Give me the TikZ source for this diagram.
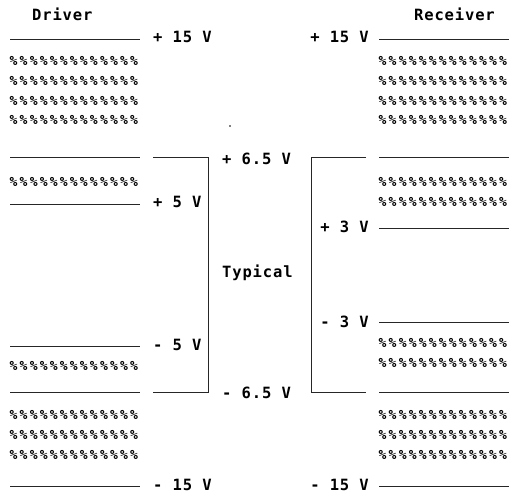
\documentclass[tikz,border=0pt]{standalone}
\usepackage{fontspec}
\newfontfamily\lblfont[LetterSpace=5.5]{DejaVu Sans Mono Bold}
\newfontfamily\hatchfont[LetterSpace=17]{DejaVu Sans Mono Bold}
\newcommand\hrowtext{\%\%\%\%\%\%\%\%\%\%\%\%\%}
\tikzset{
  lbl/.style={font=\lblfont\fontsize{15.5}{18}\selectfont, inner sep=0pt, anchor=base west},
  lble/.style={lbl, anchor=base east},
  hatchrow/.style={font=\hatchfont\fontsize{13}{14}\selectfont, inner sep=0pt, anchor=base west},
  rule/.style={line width=0.8pt, black!85}
}
\begin{document}
\begin{tikzpicture}[x=1pt,y=-1pt]
\useasboundingbox (0,0) rectangle (510,500);
% titles
\node[lbl] (drv) at (32,20.7) {Driver};
\node[lble] (rcv) at (495,20.7) {Receiver};
% left labels
\node[lbl] (lp15) at (153,42.7) {+ 15 V};
\node[lbl] (lp5) at (153,207.7) {+ 5 V};
\node[lbl] (lm5) at (153,350.7) {- 5 V};
\node[lbl] (lm15) at (153,490.7) {- 15 V};
% right labels
\node[lble] (rp15) at (369,42.7) {+ 15 V};
\node[lble] (rp3) at (369,232.7) {+ 3 V};
\node[lble] (rm3) at (369,327.7) {- 3 V};
\node[lble] (rm15) at (369,490.7) {- 15 V};
% center labels
\node[lbl] (cp65) at (222,164.7) {+ 6.5 V};
\node[lbl] (typ) at (222,277.7) {Typical};
\node[lbl] (cm65) at (222,398.7) {- 6.5 V};
% rules
\foreach \y in {39,157,204,346,392,486} \draw[rule] (10,\y) -- (140,\y);
\foreach \y in {39,157,228,322,392,486} \draw[rule] (379,\y) -- (509,\y);
\draw[rule] (153,157) -- (208,157) -- (208,392) -- (153,392);
\draw[rule] (366,157) -- (311,157) -- (311,392) -- (366,392);
% hatch rows left
\foreach \y [count=\i] in {61,81,101,120,182,366,415,435,455}
  \node[hatchrow] (lh\i) at (9.5,\y+4.7) {\hrowtext};
% hatch rows right
\foreach \y [count=\i] in {61,81,101,120,182,202,343,363,415,435,455}
  \node[hatchrow] (rh\i) at (378.5,\y+4.7) {\hrowtext};
\fill (230,126) circle (0.8);
\end{tikzpicture}
\end{document}
